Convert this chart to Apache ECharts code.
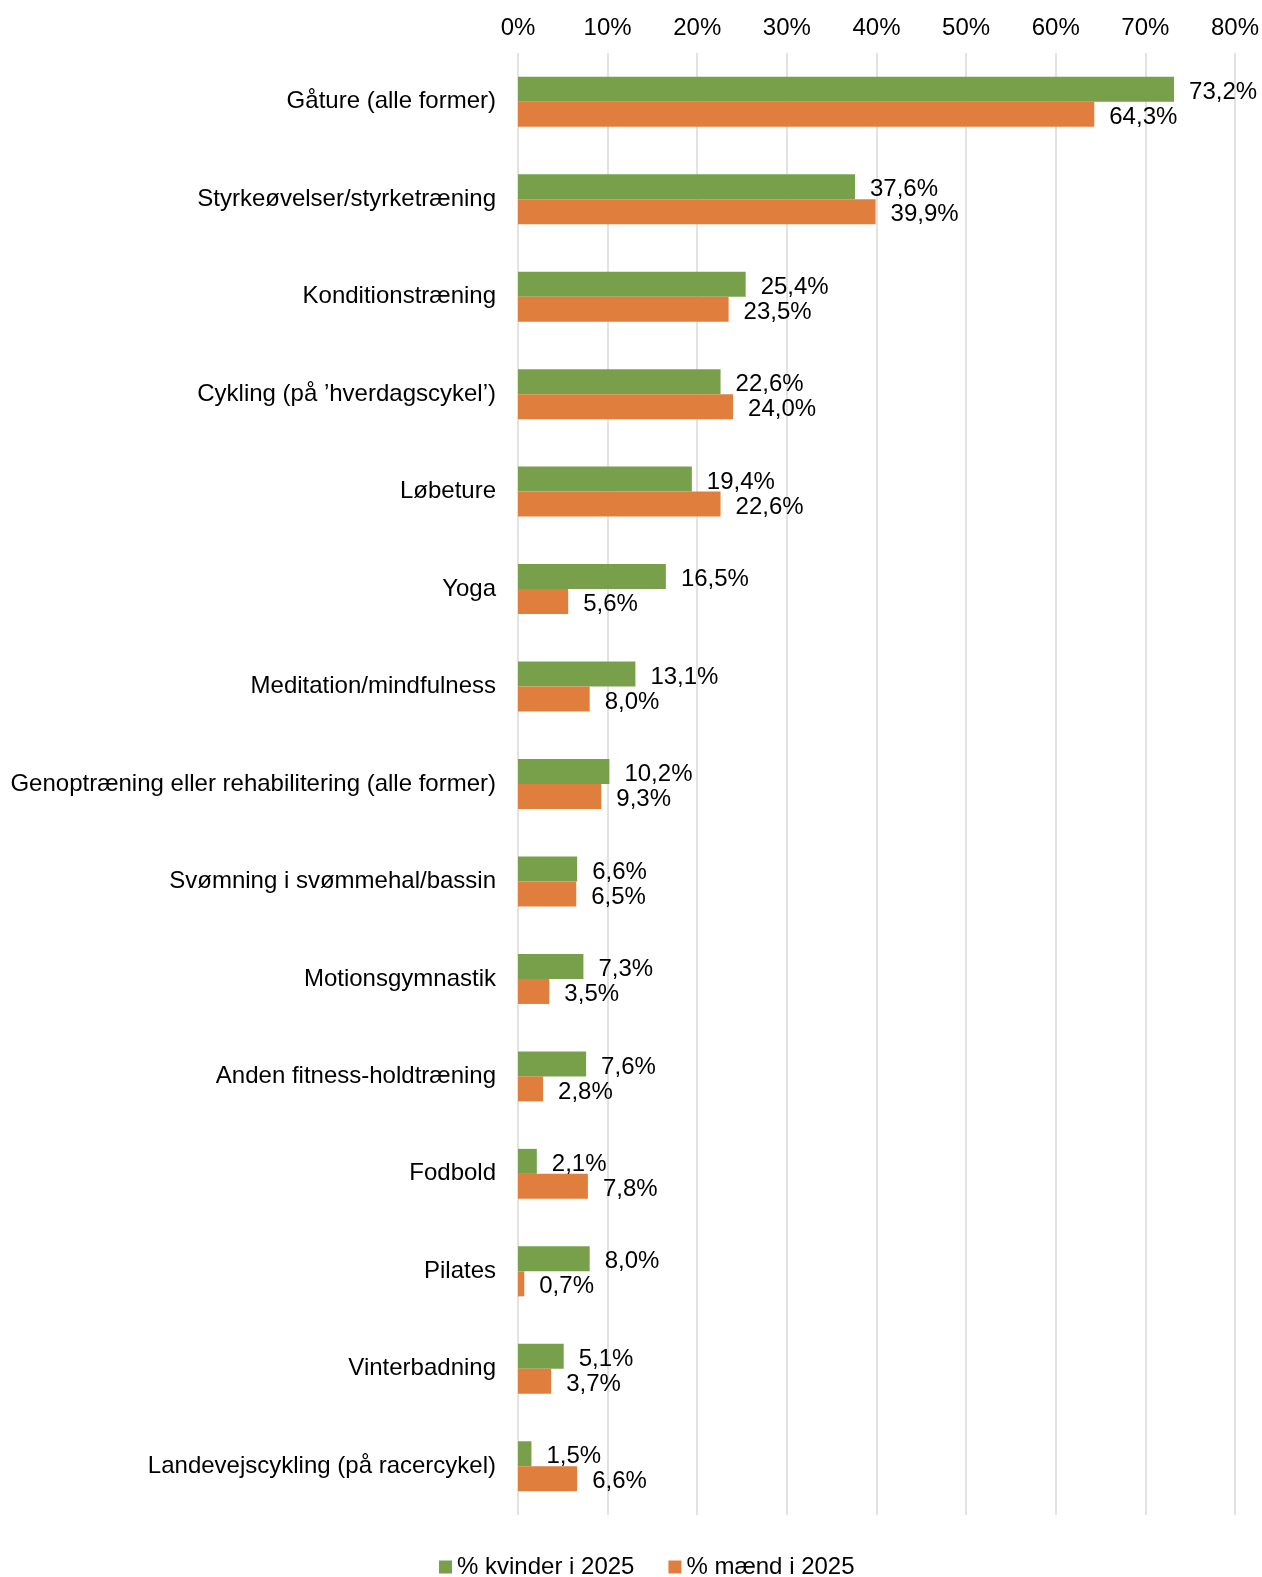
<!DOCTYPE html>
<html><head><meta charset="utf-8">
<script src="https://cdn.jsdelivr.net/npm/echarts@6/dist/echarts.min.js"></script>
<style>html,body{margin:0;padding:0;background:#fff}#c{width:1262px;height:1577px}</style>
</head><body><div id="c"></div>
<script>
const categories = [
  "Gåture (alle former)",
  "Styrkeøvelser/styrketræning",
  "Konditionstræning",
  "Cykling (på ’hverdagscykel’)",
  "Løbeture",
  "Yoga",
  "Meditation/mindfulness",
  "Genoptræning eller rehabilitering (alle former)",
  "Svømning i svømmehal/bassin",
  "Motionsgymnastik",
  "Anden fitness-holdtræning",
  "Fodbold",
  "Pilates",
  "Vinterbadning",
  "Landevejscykling (på racercykel)"
];
const kvinder = [73.2, 37.6, 25.4, 22.6, 19.4, 16.5, 13.1, 10.2, 6.6, 7.3, 7.6, 2.1, 8.0, 5.1, 1.5];
const maend = [64.3, 39.9, 23.5, 24.0, 22.6, 5.6, 8.0, 9.3, 6.5, 3.5, 2.8, 7.8, 0.7, 3.7, 6.6];
const seriesNames = ["% kvinder i 2025", "% mænd i 2025"];

const font = "'Liberation Sans', Arial, sans-serif";
const fs = 24;
const fmt = v => v.toFixed(1).replace('.', ',') + '%';
const chart = echarts.init(document.getElementById('c'));
const lbl = {show: true, position: 'right', distance: 15, offset: [0, 3], color: '#000', fontSize: fs, fontFamily: font,
  formatter: p => fmt(p.value)};
chart.setOption({
  animation: false,
  textStyle: {fontFamily: font},
  grid: {left: 518, right: 26, top: 53, bottom: 62, containLabel: false},
  legend: {
    top: 1550, left: 434, itemWidth: 13, itemHeight: 13, itemGap: 34,
    icon: 'rect',
    textStyle: {fontSize: fs, color: '#000', fontFamily: font, padding: [0, 0, 0, 0]},
    data: seriesNames
  },
  xAxis: {
    type: 'value', position: 'top', min: 0, max: 80, interval: 10,
    axisLabel: {formatter: '{value}%', fontSize: fs, color: '#000', margin: 13, fontFamily: font},
    axisLine: {show: false}, axisTick: {show: false},
    splitLine: {show: true, lineStyle: {color: '#d9d9d9', width: 1.5}}
  },
  yAxis: {
    type: 'category', data: categories, inverse: true,
    axisLabel: {fontSize: fs, color: '#000', margin: 22, fontFamily: font, padding: [10, 0, 0, 0]},
    axisLine: {show: false}, axisTick: {show: false}
  },
  series: [
    {name: seriesNames[0], type: 'bar', data: kvinder, barWidth: 25, barGap: '0%',
     itemStyle: {color: '#78A04B'}, label: lbl},
    {name: seriesNames[1], type: 'bar', data: maend, barWidth: 25, barGap: '0%',
     itemStyle: {color: '#E07F3D'}, label: lbl}
  ]
});
</script></body></html>
